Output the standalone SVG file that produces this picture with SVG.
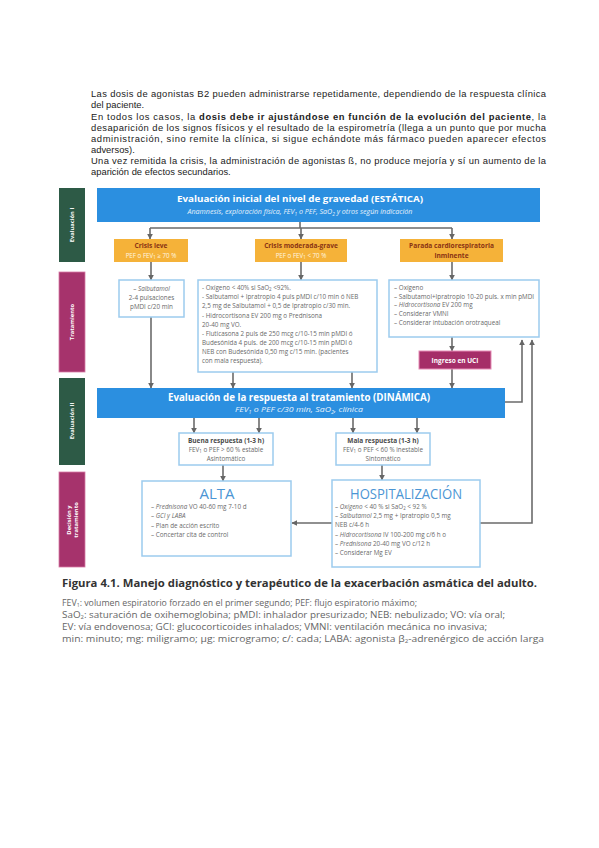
<svg xmlns="http://www.w3.org/2000/svg" width="599" height="848" viewBox="0 0 599 848">
<defs>
<marker id="ah" viewBox="0 0 10 10" refX="9" refY="5" markerWidth="6" markerHeight="6" markerUnits="userSpaceOnUse" orient="auto">
<path d="M0,0 L10,5 L0,10 z" fill="#666"/>
</marker>
<style>
.body{font-family:"Liberation Sans",Arial,sans-serif;font-size:9.4px;fill:#222}
.f{font-family:"Open Sans","Noto Sans",sans-serif}
.c{stroke:#6b6b6b;stroke-width:1.6;fill:none}
.a{marker-end:url(#ah)}
.bx{fill:#fff;stroke:#9ccbee;stroke-width:1.5}
.or{fill:#f5b239}
.ot{font-size:6.6px;font-weight:bold;fill:#8a3414}
.os{font-size:6.2px;fill:#fff6e0}
.t{font-size:6.3px;fill:#6a6a6a}
.rt{font-size:6.5px;font-weight:bold;fill:#4a4a4a}
.side{font-size:5.8px;font-weight:bold;fill:#fff}
.big{font-size:15px;fill:#4b95d4}
.lg{font-size:9.4px;fill:#666}
.gr{fill:#2d5a46}
.mg{fill:#a6336c;stroke:#d77aa5;stroke-width:0.8}
.blue{fill:#2b8fe0}
.sub{font-size:4.4px}
</style>
</defs>
<rect width="599" height="848" fill="#fff"/>

<g id="texto">
<text class="body" x="91" y="97" textLength="455" lengthAdjust="spacing">Las dosis de agonistas B2 pueden administrarse repetidamente, dependiendo de la respuesta clínica</text>
<text class="body" x="91" y="108">del paciente.</text>
<text class="body" x="91" y="119.5" textLength="455" lengthAdjust="spacing">En todos los casos, la <tspan font-weight="bold">dosis debe ir ajustándose en función de la evolución del paciente</tspan>, la</text>
<text class="body" x="91" y="130.5" textLength="455" lengthAdjust="spacing">desaparición de los signos físicos y el resultado de la espirometría (llega a un punto que por mucha</text>
<text class="body" x="91" y="141.5" textLength="455" lengthAdjust="spacing">administración, sino remite la clínica, si sigue echándote más fármaco pueden aparecer efectos</text>
<text class="body" x="91" y="152.5">adversos).</text>
<text class="body" x="91" y="163.5" textLength="455" lengthAdjust="spacing">Una vez remitida la crisis, la administración de agonistas ß, no produce mejoría y sí un aumento de la</text>
<text class="body" x="91" y="174.5">aparición de efectos secundarios.</text>
</g>

<g id="side-ev1"><rect class="gr" x="59" y="188" width="26" height="74"/><text class="f side" transform="translate(74,225) rotate(-90)" text-anchor="middle">Evaluación I</text></g>
<g id="side-trat"><rect class="mg" x="59" y="272" width="26" height="100"/><text class="f side" transform="translate(74,322) rotate(-90)" text-anchor="middle">Tratamiento</text></g>
<g id="side-ev2"><rect class="gr" x="59" y="378" width="26" height="87"/><text class="f side" transform="translate(74,421) rotate(-90)" text-anchor="middle">Evaluación II</text></g>
<g id="side-dec"><rect class="mg" x="59" y="472" width="26" height="95"/><text class="f side" transform="translate(72,520) rotate(-90)" text-anchor="middle"><tspan x="0" y="-1">Decisión y</tspan><tspan x="0" y="6">tratamiento</tspan></text></g>

<g id="connectors">
<path class="c" d="M300,222 V228 M150,228 H452"/>
<path class="c a" d="M150,228 V239"/>
<path class="c a" d="M301,228 V239"/>
<path class="c a" d="M452,228 V239"/>
<path class="c a" d="M151,262 V280"/>
<path class="c a" d="M301,262 V280"/>
<path class="c a" d="M452,262 V280"/>
<path class="c a" d="M151,317 V388"/>
<path class="c a" d="M233,372 V388"/>
<path class="c a" d="M352,372 V388"/>
<path class="c a" d="M452,337 V351"/>
<path class="c a" d="M452,369 V388"/>
<path class="c a" d="M505,402 H522 V340"/>
<path class="c a" d="M480,523 H532 V340"/>
<path class="c a" d="M194,418 V433"/>
<path class="c a" d="M259,418 V433"/>
<path class="c a" d="M353,418 V433"/>
<path class="c a" d="M417,418 V433"/>
<path class="c a" d="M223,465 V481"/>
<path class="c a" d="M382,465 V480"/>
<path class="c a" d="M332,523 H292"/>
</g>

<g id="eval-inicial">
<rect class="blue" x="97" y="188" width="443" height="34"/>
<text class="f" x="300" y="202" text-anchor="middle" font-size="9.6" font-weight="bold" fill="#fff" textLength="246" lengthAdjust="spacingAndGlyphs">Evaluación inicial del nivel de gravedad (ESTÁTICA)</text>
<text class="f" x="300" y="214" text-anchor="middle" font-size="6.6" font-style="italic" fill="#e6f1fb" textLength="225" lengthAdjust="spacingAndGlyphs">Anamnesis, exploración física, FEV<tspan class="sub" dy="1.5">1</tspan><tspan dy="-1.5"> o PEF, SaO</tspan><tspan class="sub" dy="1.5">2</tspan><tspan dy="-1.5"> y otros según indicación</tspan></text>
</g>

<g id="crisis-leve">
<rect class="or" x="114" y="239" width="74" height="23"/>
<text class="f ot" x="151" y="248" text-anchor="middle">Crisis leve</text>
<text class="f os" x="151" y="257.5" text-anchor="middle">PEF o FEV<tspan class="sub" dy="1.2">1</tspan><tspan dy="-1.2"> ≥ 70 %</tspan></text>
</g>
<g id="crisis-moderada">
<rect class="or" x="255" y="239" width="92" height="23"/>
<text class="f ot" x="301" y="248" text-anchor="middle">Crisis moderada-grave</text>
<text class="f os" x="301" y="257.5" text-anchor="middle">PEF o FEV<tspan class="sub" dy="1.2">1</tspan><tspan dy="-1.2"> &lt; 70 %</tspan></text>
</g>
<g id="parada">
<rect class="or" x="400" y="239" width="103" height="23"/>
<text class="f ot" x="451.5" y="248" text-anchor="middle">Parada cardiorespiratoria</text>
<text class="f ot" x="451.5" y="257.5" text-anchor="middle">inminente</text>
</g>

<g id="trat-leve">
<rect class="bx" x="119" y="280" width="65" height="37"/>
<text class="f t" x="151.5" y="291" text-anchor="middle">– <tspan font-style="italic">Salbutamol</tspan></text>
<text class="f t" x="151.5" y="300" text-anchor="middle">2-4 pulsaciones</text>
<text class="f t" x="151.5" y="309" text-anchor="middle">pMDI c/20 min</text>
</g>
<g id="trat-moderada">
<rect class="bx" x="198" y="280" width="179" height="92"/>
<text class="f t" x="202" y="290">- Oxígeno &lt; 40% si SaO<tspan class="sub" dy="1.2">2</tspan><tspan dy="-1.2"> &lt;92%.</tspan></text>
<text class="f t" x="202" y="299">- Salbutamol + Ipratropio 4 puls pMDI c/10 min ó NEB</text>
<text class="f t" x="202" y="308">2,5 mg de Salbutamol + 0,5 de Ipratropio c/30 min.</text>
<text class="f t" x="202" y="317.5">- Hidrocortisona EV 200 mg o Prednisona</text>
<text class="f t" x="202" y="326.5">20-40 mg VO.</text>
<text class="f t" x="202" y="336">- Fluticasona 2 puls de 250 mcg c/10-15 min pMDI ó</text>
<text class="f t" x="202" y="345">Budesónida 4 puls. de 200 mcg c/10-15 min pMDI ó</text>
<text class="f t" x="202" y="354">NEB con Budesónida 0,50 mg c/15 min. (pacientes</text>
<text class="f t" x="202" y="363">con mala respuesta).</text>
</g>
<g id="trat-parada">
<rect class="bx" x="389" y="280" width="150" height="57"/>
<text class="f t" x="394" y="290">– Oxígeno</text>
<text class="f t" x="394" y="298.5">– Salbutamol+Ipratropio 10-20 puls. x min pMDI</text>
<text class="f t" x="394" y="307">– <tspan font-style="italic">Hidrocortisona</tspan> EV 200 mg</text>
<text class="f t" x="394" y="316">– Considerar VMNI</text>
<text class="f t" x="394" y="325">– Considerar intubación orotraqueal</text>
</g>
<g id="uci">
<rect x="419" y="351" width="72" height="18" fill="#a52e68" stroke="#e58bb5" stroke-width="1"/>
<text class="f" x="455" y="362.5" text-anchor="middle" font-size="6.5" font-weight="bold" fill="#fff">Ingreso en UCI</text>
</g>

<g id="eval-respuesta">
<rect class="blue" x="97" y="388" width="408" height="30"/>
<text class="f" x="299" y="400.5" text-anchor="middle" font-size="9.8" font-weight="bold" fill="#fff" textLength="262" lengthAdjust="spacingAndGlyphs">Evaluación de la respuesta al tratamiento (DINÁMICA)</text>
<text class="f" x="299" y="412" text-anchor="middle" font-size="7.2" font-style="italic" fill="#e6f1fb" textLength="128" lengthAdjust="spacingAndGlyphs">FEV<tspan class="sub" dy="1.5">1</tspan><tspan dy="-1.5"> o PEF c/30 min, SaO</tspan><tspan class="sub" dy="1.5">2</tspan><tspan dy="-1.5">, clínica</tspan></text>
</g>

<g id="buena">
<rect class="bx" x="179" y="433" width="94" height="32"/>
<text class="f rt" x="226" y="442.5" text-anchor="middle">Buena respuesta (1-3 h)</text>
<text class="f t" x="226" y="451.5" text-anchor="middle">FEV<tspan class="sub" dy="1.2">1</tspan><tspan dy="-1.2"> o PEF &gt; 60 % estable</tspan></text>
<text class="f t" x="226" y="460.5" text-anchor="middle">Asintomático</text>
</g>
<g id="mala">
<rect class="bx" x="336" y="433" width="94" height="32"/>
<text class="f rt" x="383" y="442.5" text-anchor="middle">Mala respuesta (1-3 h)</text>
<text class="f t" x="383" y="451.5" text-anchor="middle">FEV<tspan class="sub" dy="1.2">1</tspan><tspan dy="-1.2"> o PEF &lt; 60 % inestable</tspan></text>
<text class="f t" x="383" y="460.5" text-anchor="middle">Sintomático</text>
</g>

<g id="alta">
<rect class="bx" x="142" y="481" width="149" height="75"/>
<text class="f big" x="217" y="498.5" text-anchor="middle">ALTA</text>
<text class="f t" x="151" y="509">– <tspan font-style="italic">Prednisona</tspan> VO 40-60 mg 7-10 d</text>
<text class="f t" x="151" y="518">– <tspan font-style="italic">GCI y LABA</tspan></text>
<text class="f t" x="151" y="527.5">– Plan de acción escrito</text>
<text class="f t" x="151" y="536.5">– Concertar cita de control</text>
</g>
<g id="hospitalizacion">
<rect class="bx" x="332" y="480" width="148" height="87"/>
<text class="f big" x="406" y="498.5" text-anchor="middle" textLength="112" lengthAdjust="spacingAndGlyphs">HOSPITALIZACIÓN</text>
<text class="f t" x="335" y="509">– <tspan font-style="italic">Oxígeno</tspan> &lt; 40 % si SaO<tspan class="sub" dy="1.2">2</tspan><tspan dy="-1.2"> &lt; 92 %</tspan></text>
<text class="f t" x="335" y="518">– <tspan font-style="italic">Salbutamol</tspan> 2,5 mg + Ipratropio 0,5 mg</text>
<text class="f t" x="335" y="527">NEB c/4-6 h</text>
<text class="f t" x="335" y="536.5">– <tspan font-style="italic">Hidrocortisona</tspan> IV 100-200 mg c/6 h o</text>
<text class="f t" x="335" y="545.5">– <tspan font-style="italic">Prednisona</tspan> 20-40 mg VO c/12 h</text>
<text class="f t" x="335" y="554.5">– Considerar Mg EV</text>
</g>

<g id="pie">
<text class="f" x="62" y="587" font-size="10" font-weight="bold" fill="#333" textLength="475" lengthAdjust="spacingAndGlyphs">Figura 4.1. Manejo diagnóstico y terapéutico de la exacerbación asmática del adulto.</text>
<text class="f lg" x="62" y="606" textLength="355" lengthAdjust="spacingAndGlyphs">FEV<tspan font-size="5.6" dy="1.3">1</tspan><tspan dy="-1.3">: volumen espiratorio forzado en el primer segundo; PEF: flujo espiratorio máximo;</tspan></text>
<text class="f lg" x="62" y="618" textLength="443" lengthAdjust="spacingAndGlyphs">SaO<tspan font-size="5.6" dy="1.3">2</tspan><tspan dy="-1.3">: saturación de oxihemoglobina; pMDI: inhalador presurizado; NEB: nebulizado; VO: vía oral;</tspan></text>
<text class="f lg" x="62" y="630" textLength="425" lengthAdjust="spacingAndGlyphs">EV: vía endovenosa; GCI: glucocorticoides inhalados; VMNI: ventilación mecánica no invasiva;</text>
<text class="f lg" x="62" y="642" textLength="482" lengthAdjust="spacingAndGlyphs">min: minuto; mg: miligramo; μg: microgramo; c/: cada; LABA: agonista β<tspan font-size="5.6" dy="1.3">2</tspan><tspan dy="-1.3">-adrenérgico de acción larga</tspan></text>
</g>
</svg>
